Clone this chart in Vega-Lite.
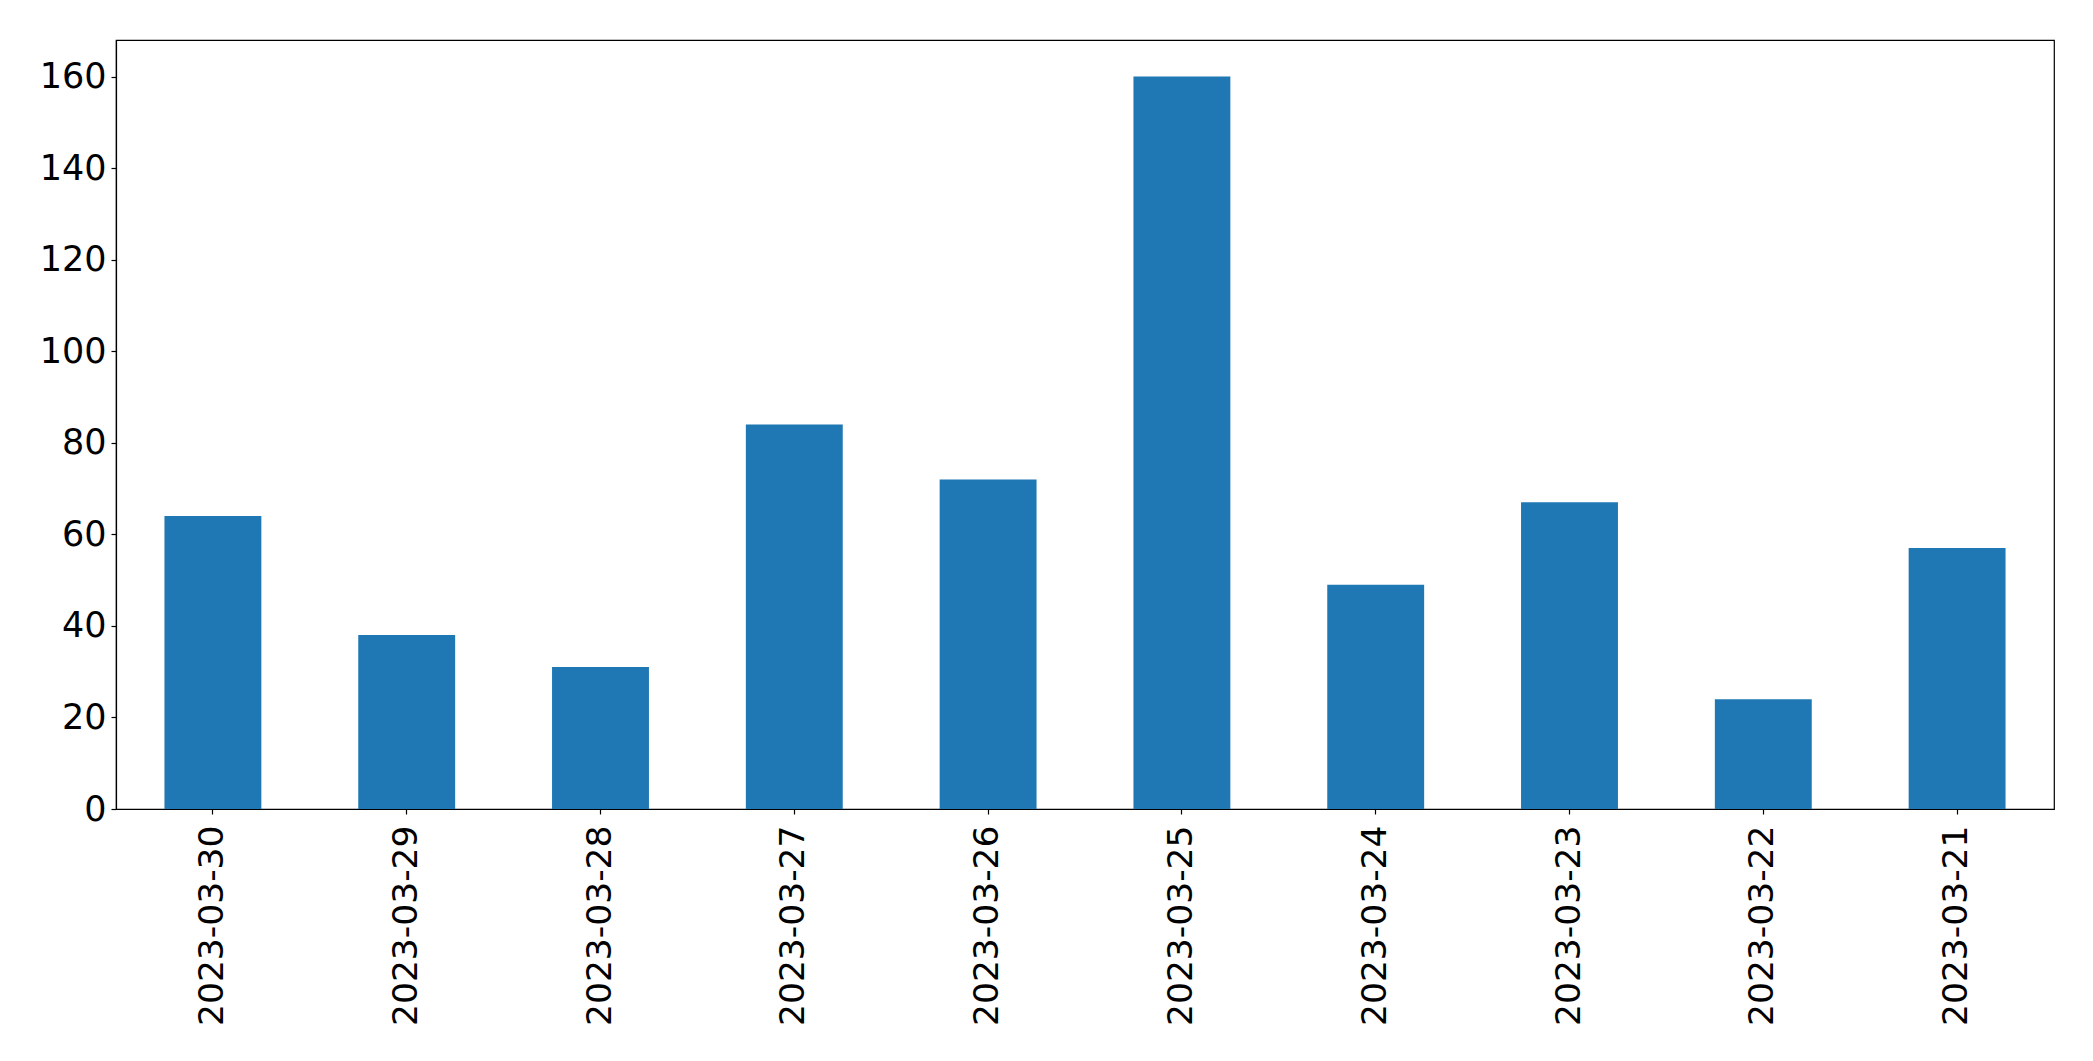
{
  "$schema": "https://vega.github.io/schema/vega-lite/v6.json",
  "width": 1938,
  "height": 769,
  "autosize": "none",
  "padding": {"left": 116, "top": 40, "right": 39, "bottom": 252},
  "background": "white",
  "config": {
    "view": {"stroke": "black", "strokeWidth": 1.2},
    "font": "DejaVu Sans"
  },
  "data": {
    "values": [
      {"date": "2023-03-30", "count": 64},
      {"date": "2023-03-29", "count": 38},
      {"date": "2023-03-28", "count": 31},
      {"date": "2023-03-27", "count": 84},
      {"date": "2023-03-26", "count": 72},
      {"date": "2023-03-25", "count": 160},
      {"date": "2023-03-24", "count": 49},
      {"date": "2023-03-23", "count": 67},
      {"date": "2023-03-22", "count": 24},
      {"date": "2023-03-21", "count": 57}
    ]
  },
  "mark": {"type": "bar", "color": "#1f77b4"},
  "encoding": {
    "x": {
      "field": "date",
      "type": "nominal",
      "sort": null,
      "scale": {"paddingInner": 0.5, "paddingOuter": 0.25},
      "axis": {
        "title": null,
        "labelAngle": -90,
        "labelAlign": "right",
        "labelBaseline": "middle",
        "labelFontSize": 34.5,
        "labelFont": "DejaVu Sans",
        "labelColor": "black",
        "labelPadding": 11,
        "labelLimit": 0,
        "tickColor": "black",
        "tickSize": 5,
        "tickWidth": 1.2,
        "domainColor": "black",
        "domainWidth": 1.2,
        "grid": false
      }
    },
    "y": {
      "field": "count",
      "type": "quantitative",
      "scale": {"domain": [0, 168], "nice": false},
      "axis": {
        "title": null,
        "values": [0, 20, 40, 60, 80, 100, 120, 140, 160],
        "labelFontSize": 35,
        "labelFont": "DejaVu Sans",
        "labelColor": "black",
        "labelPadding": 5,
        "tickColor": "black",
        "tickSize": 5,
        "tickWidth": 1.2,
        "domainColor": "black",
        "domainWidth": 1.2,
        "grid": false
      }
    }
  }
}
